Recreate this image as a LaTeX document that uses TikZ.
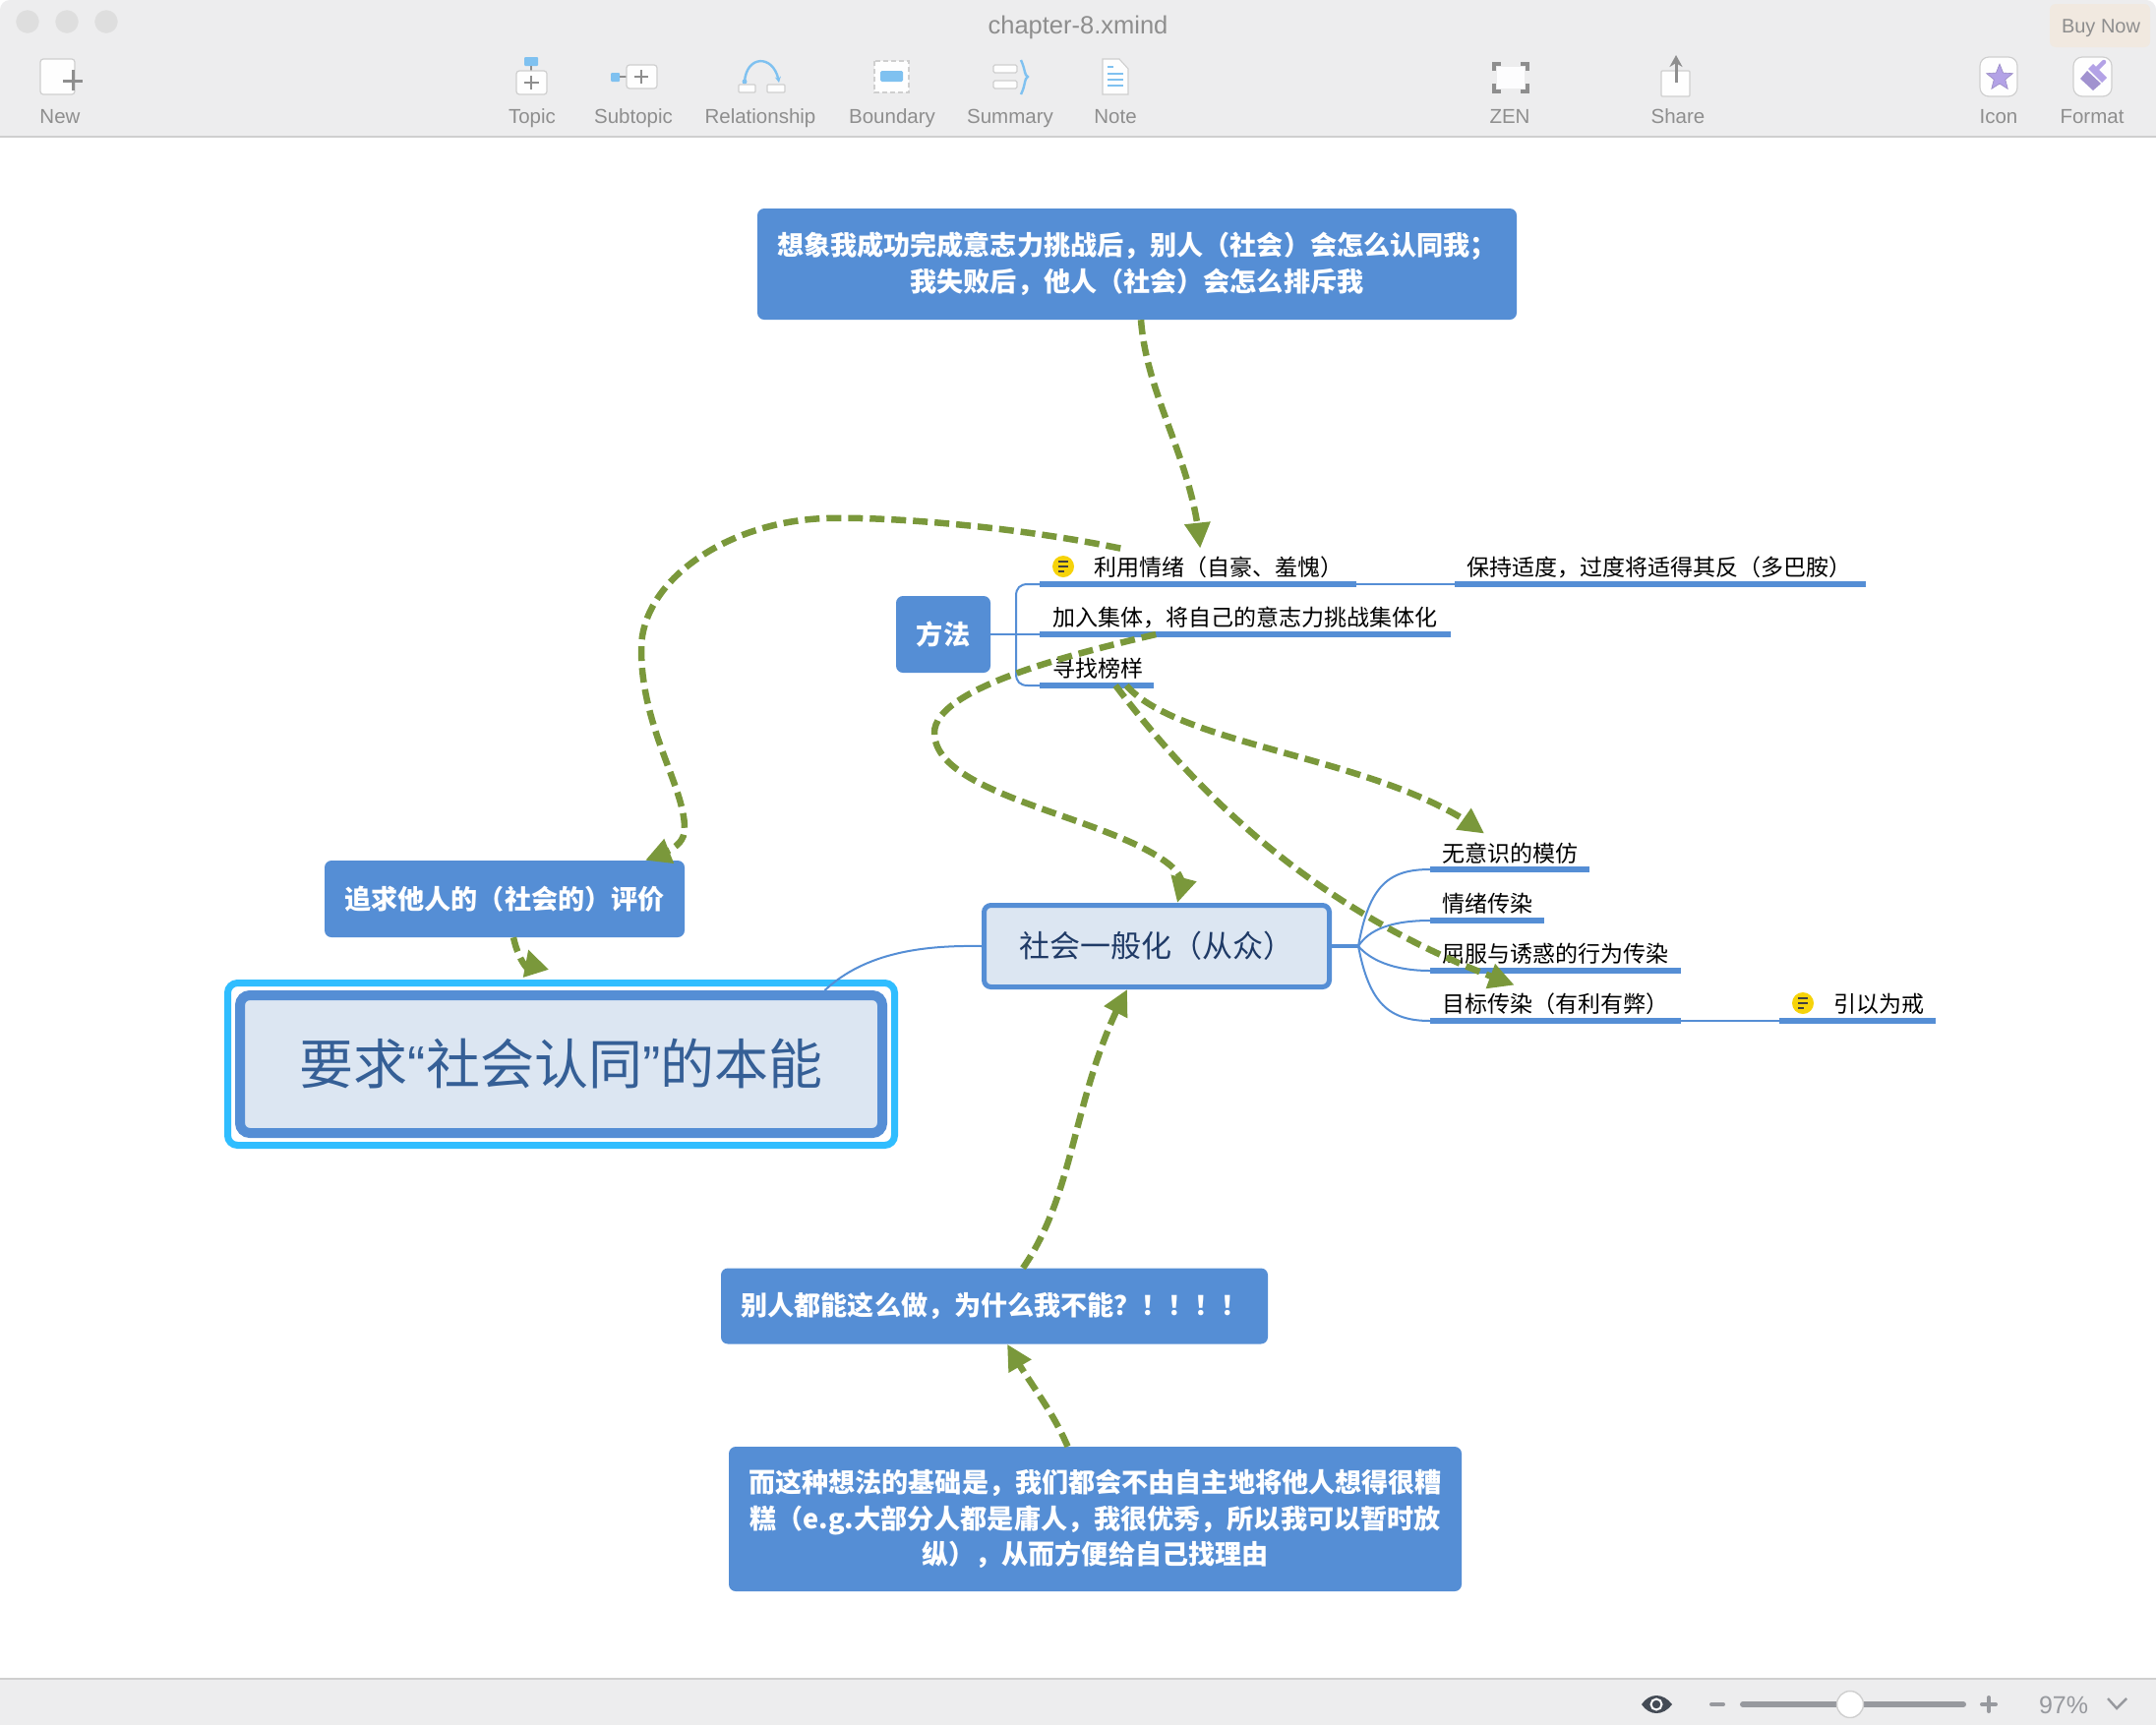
\documentclass[tikz,border=0pt]{standalone}
\usepackage{fontspec}
\setmainfont{Noto Sans CJK SC}
\newfontfamily\uifont{Liberation Sans}
\newfontfamily\quotefont{Liberation Sans}
\usetikzlibrary{arrows.meta,bending,shapes.geometric}
\definecolor{boxblue}{HTML}{558ED5}
\definecolor{palefill}{HTML}{DCE6F2}
\definecolor{mossgreen}{HTML}{7A983B}
\definecolor{barbg}{HTML}{EDEDEE}
\definecolor{uigray}{HTML}{8E8E8E}
\definecolor{uiedge}{HTML}{CFCFCF}
\definecolor{slidergray}{HTML}{97999E}
\definecolor{eyedark}{HTML}{444B55}
\definecolor{iconblue}{HTML}{7FC1F0}
\definecolor{iconpurple}{HTML}{B3A2E6}
\definecolor{notey}{HTML}{F6D30A}
\definecolor{cyanring}{HTML}{2FBDFF}
\definecolor{navytxt}{HTML}{355F96}
\definecolor{darknavy}{HTML}{1F3A66}
\definecolor{buyfill}{HTML}{F1E9E0}
\tikzset{
  x=1pt,y=-1pt,
  solidbox/.style={fill=boxblue,rounded corners=7pt,inner sep=0pt,text=white,align=center,
    font=\fontsize{27.1}{36.5}\selectfont\bfseries},
  leaf/.style={anchor=south west,inner sep=0pt,minimum height=36pt,text=black,
    font=\fontsize{23}{26}\selectfont},
  lt/.style={anchor=west,inner sep=0pt,text=black,font=\fontsize{23}{26}\selectfont},
  underl/.style={draw=boxblue,line width=6.5pt},
  branch/.style={draw=boxblue,line width=2pt},
  rel/.style={draw=mossgreen,line width=6.5pt,dash pattern=on 15pt off 7pt,
    -{Triangle[length=26pt,width=25pt,flex=0.8]},mossgreen},
  uilabel/.style={font=\uifont\fontsize{20.5}{24}\selectfont,text=uigray,inner sep=0pt,anchor=base},
  noteicon/.style={circle,fill=notey,minimum size=22pt,inner sep=0pt},
  noteline/.style={draw=black!75,line width=1.3pt},
  iconbox/.style={draw=uiedge,line width=1.2pt,fill=white!92!barbg,rounded corners=3pt},
}
\begin{document}
\begin{tikzpicture}
\useasboundingbox (0,0) rectangle (2192,1754);
\fill[white] (0,0) rectangle (2192,1754);
% ---- window bars
\fill[barbg,rounded corners=10pt] (0,200) -- (0,0) -- (2192,0) -- (2192,200) -- cycle;
\fill[white] (0,139) rectangle (2192,210);
\draw[uiedge,line width=2pt] (0,139) -- (2192,139);
\fill[barbg] (0,1707) rectangle (2192,1754);
\draw[uiedge,line width=2pt] (0,1707) -- (2192,1707);
\foreach \cx in {28,68,108} \draw[draw=black!12,fill=black!13] (\cx,22) circle (11.5);
\node[uilabel,font=\uifont\fontsize{25.5}{30}\selectfont] (title) at (1096,34) {chapter-8.xmind};
\fill[rounded corners=6pt,fill=buyfill] (2084,4) rectangle (2186,48);
\node[uilabel,font=\uifont\fontsize{20}{24}\selectfont] (buy) at (2136,33) {Buy Now};
\node[uilabel] (lnew) at (61,125) {New};
\node[uilabel] (ltopic) at (541,125) {Topic};
\node[uilabel] (lsub) at (644,125) {Subtopic};
\node[uilabel] (lrel) at (773,125) {Relationship};
\node[uilabel] (lbound) at (907,125) {Boundary};
\node[uilabel] (lsum) at (1027,125) {Summary};
\node[uilabel] (lnote) at (1134,125) {Note};
\node[uilabel] (lzen) at (1535,125) {ZEN};
\node[uilabel] (lshare) at (1706,125) {Share};
\node[uilabel] (licon) at (2032,125) {Icon};
\node[uilabel] (lformat) at (2127,125) {Format};
% New
\draw[iconbox] (41,60) rectangle (76,96);
\draw[uigray,line width=3pt] (74,71) -- (74,92) (64,82) -- (84,82);
% Topic
\fill[iconblue,rounded corners=1pt] (533,58) rectangle (547,67);
\draw[uigray,line width=1.5pt] (540,67) -- (540,72);
\draw[iconbox] (525,72) rectangle (556,96);
\draw[uigray,line width=1.2pt] (540,77) -- (540,91) (533,84) -- (548,84);
% Subtopic
\fill[iconblue,rounded corners=1pt] (621,74) rectangle (630,83);
\draw[uigray,line width=1.5pt] (630,78) -- (637,78);
\draw[iconbox] (637,66) rectangle (668,90);
\draw[uigray,line width=1.2pt] (652,71) -- (652,85) (645,78) -- (659,78);
% Relationship
\draw[iconblue,line width=2.4pt,-{Stealth[length=6pt,width=6pt]}] (757,83) .. controls (759,55) and (788,55) .. (792,84);
\fill[iconblue] (757,83) circle (2.5);
\draw[iconbox,rounded corners=1pt] (751,86) rectangle (768,94);
\draw[iconbox,rounded corners=1pt] (780,86) rectangle (798,94);
% Boundary
\draw[uiedge,line width=1.8pt,dash pattern=on 5pt off 3pt,fill=white!92!barbg] (889,62) rectangle (924,94);
\fill[iconblue,rounded corners=1.5pt] (895,72) rectangle (918,83);
% Summary
\draw[iconbox,rounded corners=1.5pt] (1010,66) rectangle (1034,74);
\draw[iconbox,rounded corners=1.5pt] (1010,82) rectangle (1034,90);
\draw[iconblue,line width=2.4pt] (1038,61) .. controls (1043,72) and (1041,76) .. (1045,78) .. controls (1041,80) and (1043,86) .. (1038,96);
% Note
\draw[draw=uiedge,line width=1.1pt,fill=white!92!barbg] (1121,60) -- (1138,60) -- (1147,70) -- (1147,96) -- (1121,96) -- cycle;
\draw[iconblue,line width=2.2pt] (1126,68) -- (1132,68) (1126,75) -- (1142,75) (1126,81) -- (1142,81) (1126,87) -- (1142,87);
% ZEN
\fill[white!92!barbg] (1522,68) rectangle (1550,90);
\draw[uigray,line width=3.4pt] (1519,72) -- (1519,65) -- (1526,65) (1546,65) -- (1553,65) -- (1553,72) (1553,85) -- (1553,93) -- (1546,93) (1526,93) -- (1519,93) -- (1519,85);
% Share
\draw[iconbox,rounded corners=1pt] (1689,72) rectangle (1718,98);
\draw[uigray,line width=3pt,-{Stealth[length=12pt,width=13pt]}] (1704,84) -- (1704,56);
% Icon
\draw[iconbox,rounded corners=9pt] (2013,58) rectangle (2051,98);
\node[star,star points=5,star point ratio=2.3,fill=iconpurple,draw=iconpurple!85!black,line width=.6pt,minimum size=28pt,inner sep=0pt] (starglyph) at (2033,79) {};
% Format
\draw[iconbox,rounded corners=9pt] (2108,58) rectangle (2147,98);
\fill[iconpurple!90!black] (2115,80) -- (2122,72) -- (2136,85) -- (2128,92) -- cycle;
\fill[iconpurple] (2123,70) -- (2128,65) -- (2142,79) -- (2137,84) -- cycle;
\draw[iconpurple,line width=4.5pt,line cap=round] (2132,70) -- (2139,63);
% status bar
\fill[eyedark] (1669,1733) .. controls (1677,1721) and (1691,1721) .. (1700,1733) .. controls (1691,1745) and (1677,1745) .. cycle;
\draw[white,line width=2pt] (1684,1733) circle (5.5);
\draw[slidergray,line width=4pt,line cap=round] (1740,1733) -- (1752,1733);
\draw[slidergray,line width=6pt,line cap=round] (1772,1733) -- (1996,1733);
\draw[uiedge,line width=1.4pt,fill=white] (1881,1733) circle (13.5);
\draw[slidergray,line width=4pt,line cap=round] (2015,1733) -- (2029,1733) (2022,1726) -- (2022,1740);
\node[uilabel,font=\uifont\fontsize{25}{30}\selectfont,text=slidergray] (pct) at (2098,1742) {97\%};
\draw[slidergray,line width=2.4pt] (2143,1727) -- (2152,1737) -- (2162,1727);
% ---- topics
\node[solidbox,minimum width=772pt,minimum height=113pt] (topb) at (1156,268.5) {\raisebox{-1.5pt}{想象我成功完成意志力挑战后，别人（社会）会怎么认同我；}\\\raisebox{-1.5pt}{我失败后，他人（社会）会怎么排斥我}};
\node[solidbox,minimum width=96pt,minimum height=78pt] (fangfa) at (959,645) {\raisebox{-1pt}{方法}};
\node[solidbox,minimum width=366pt,minimum height=78pt] (zhuiqiu) at (513,914) {追求他人的（社会的）评价};
\node[solidbox,minimum width=556pt,minimum height=77pt] (bieren) at (1011,1328) {\raisebox{-1pt}{别人都能这么做，为什么我不能？！！！！}};
\node[solidbox,minimum width=745pt,minimum height=147pt] (erzhe) at (1113.5,1544.5) {\raisebox{-1.5pt}{而这种想法的基础是，我们都会不由自主地将他人想得很糟}\\\raisebox{-1.5pt}{糕（e.g.大部分人都是庸人，我很优秀，所以我可以暂时放}\\\raisebox{-1.5pt}{纵），从而方便给自己找理由}};
\node[draw=boxblue,fill=palefill,line width=5pt,rounded corners=7pt,minimum width=351pt,minimum height=83pt,inner sep=0pt,text=darknavy,font=\fontsize{31}{36}\selectfont] (shehui) at (1176,962) {社会一般化（从众）};
\node[draw=cyanring,line width=7pt,rounded corners=10pt,minimum width=678pt,minimum height=165pt,inner sep=0pt] (ring) at (570.5,1082) {};
\node[draw=boxblue,fill=palefill,line width=10pt,rounded corners=10pt,minimum width=653pt,minimum height=140pt,inner sep=0pt,text=navytxt,font=\fontsize{55}{64}\selectfont] (mainb) at (570.5,1082) {\raisebox{-2pt}{要求{\quotefont “}社会认同{\quotefont ”}的本能}};
% ---- leaves
\node[leaf,minimum width=322pt] (lqing) at (1057,594) {};
\node[leaf,minimum width=418pt] (lbao) at (1479,594) {};
\node[leaf,minimum width=418pt] (ljia) at (1057,645) {};
\node[leaf,minimum width=116pt] (lxun) at (1057,697) {};
\node[leaf,minimum width=162pt] (lwu) at (1454,884) {};
\node[leaf,minimum width=116pt] (lqx) at (1454,936) {};
\node[leaf,minimum width=255pt] (lqu) at (1454,987) {};
\node[leaf,minimum width=255pt] (lmu) at (1454,1038) {};
\node[leaf,minimum width=159pt] (lyin) at (1809,1038) {};
\node[lt] (tqing) at (1112,576.7) {利用情绪（自豪、羞愧）};
\node[lt] (tbao) at (1491,576.7) {保持适度，过度将适得其反（多巴胺）};
\node[lt] (tjia) at (1070,627.7) {加入集体，将自己的意志力挑战集体化};
\node[lt] (txun) at (1070,679.7) {寻找榜样};
\node[lt] (twu) at (1466,867.7) {无意识的模仿};
\node[lt] (tqx) at (1466,918.7) {情绪传染};
\node[lt] (tqu) at (1466,969.7) {屈服与诱惑的行为传染};
\node[lt] (tmu) at (1466,1020.7) {目标传染（有利有弊）};
\node[lt] (tyin) at (1864,1020.7) {引以为戒};
\foreach \n in {lqing,lbao,ljia,lxun,lwu,lqx,lqu,lmu,lyin}
  \draw[underl] (\n.south west) -- (\n.south east);
\node[noteicon] (note1) at (1081,576) {};
\draw[noteline] (1076,571) -- (1086,571) (1076,576) -- (1086,576) (1076,581) -- (1082,581);
\node[noteicon] (note2) at (1833,1020) {};
\draw[noteline] (1828,1015) -- (1838,1015) (1828,1020) -- (1838,1020) (1828,1025) -- (1834,1025);
% ---- blue branches
\draw[branch] (fangfa.east) -- (ljia.south west);
\draw[branch] (lqing.south west) -- (1045,594) .. controls (1037,594) and (1033,598) .. (1033,606) -- (1033,685) .. controls (1033,693) and (1037,697) .. (1045,697) -- (lxun.south west);
\draw[branch] (lqing.south east) -- (lbao.south west);
\draw[branch] (lmu.south east) -- (lyin.south west);
\draw[branch,line width=4pt] (shehui.east) -- ++(27,0) coordinate (hub);
\draw[branch] (hub) .. controls (1392,900) and (1412,884) .. (lwu.south west);
\draw[branch] (hub) .. controls (1392,945) and (1415,936) .. (lqx.south west);
\draw[branch] (hub) .. controls (1392,975) and (1415,987) .. (lqu.south west);
\draw[branch] (hub) .. controls (1392,1020) and (1412,1038) .. (lmu.south west);
\draw[branch] (shehui.west) .. controls (940,961) and (880,968) .. ([xshift=268pt]mainb.north);
% ---- relationships
\coordinate (hair) at (537,965);
\draw[rel] ([xshift=4pt]topb.south) .. controls (1166,405) and (1214,470) .. ([xshift=2pt]lqing.north);
\draw[rel] ([xshift=-79pt]lqing.north) .. controls (1030,535) and (900,525) .. (840,527) .. controls (740,530) and (652,590) .. (652,660) .. controls (652,740) and (696,800) .. (696,842) .. controls (696,860) and (680,866) .. ([xshift=143pt]zhuiqiu.north);
\draw[rel] ([xshift=-91pt]ljia.south) .. controls (1090,665) and (950,700) .. (950,745) .. controls (950,810) and (1130,830) .. (1190,880) .. controls (1204,892) and (1204,900) .. ([xshift=21pt]shehui.north);
\draw[rel] ([xshift=30pt]lxun.south) .. controls (1200,760) and (1410,770) .. ([xshift=-26pt]lwu.north);
\draw[rel] ([xshift=19pt]lxun.south) .. controls (1220,810) and (1340,930) .. ([xshift=-42pt]lmu.north);
\draw[rel] ([xshift=9pt]zhuiqiu.south) .. controls (530,990) and (552,1000) .. (hair);
\draw[rel] ([xshift=29pt]bieren.north) .. controls (1095,1210) and (1090,1110) .. ([xshift=-30pt]shehui.south);
\draw[rel] ([xshift=-28pt]erzhe.north) .. controls (1068,1430) and (1045,1405) .. ([xshift=13pt]bieren.south);
\end{tikzpicture}
\end{document}
